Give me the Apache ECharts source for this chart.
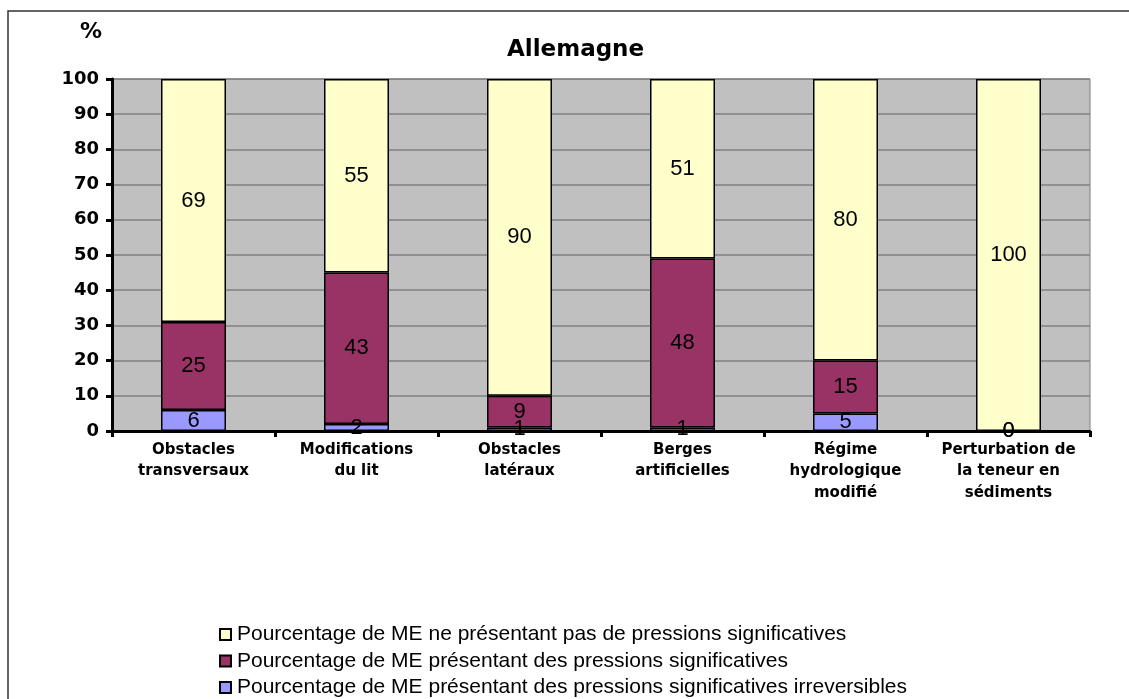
<!DOCTYPE html>
<html>
<head>
<meta charset="utf-8">
<script src="https://cdn.jsdelivr.net/npm/echarts@6/dist/echarts.min.js"></script>
<style>html,body{margin:0;padding:0;background:#fff}#c{width:1129px;height:699px}</style>
</head>
<body>
<div id="c"></div>
<script>
const categories = ['Obstacles\ntransversaux', 'Modifications\ndu lit', 'Obstacles\nlatéraux', 'Berges\nartificielles', 'Régime\nhydrologique\nmodifié', 'Perturbation de\nla teneur en\nsédiments'];
const irreversibles = [6, 2, 1, 1, 5, 0];
const significatives = [25, 43, 9, 48, 15, 0];
const nonSignificatives = [69, 55, 90, 51, 80, 100];
const yTicks = [0, 10, 20, 30, 40, 50, 60, 70, 80, 90, 100];
const names = [
  'Pourcentage de ME ne présentant pas de pressions significatives',
  'Pourcentage de ME présentant des pressions significatives',
  'Pourcentage de ME présentant des pressions significatives irreversibles'
];
const FONT = '"Liberation Sans", Arial, sans-serif';
const WIDE = '"DejaVu Sans", sans-serif';
const chart = echarts.init(document.getElementById('c'));
const lbl = {show: true, position: 'inside', color: '#000', fontSize: 22, fontFamily: FONT};
function ser(name, data, color) {
  return {name, type: 'bar', stack: 's', data, barWidth: 65,
    itemStyle: {color, borderColor: '#000', borderWidth: 1.5},
    label: lbl, emphasis: {disabled: true}};
}
chart.setOption({
  animation: false,
  graphic: [
    {type: 'rect', shape: {x: 8, y: 11, width: 1300, height: 900}, style: {fill: 'none', stroke: '#333', lineWidth: 1.5}, z: -10},
    {type: 'rect', shape: {x: 112, y: 79, width: 978, height: 352}, style: {fill: '#C0C0C0', stroke: '#808080', lineWidth: 1}, z: -5},
    {type: 'text', left: 80, top: 21, style: {text: '%', font: 'bold 22px ' + WIDE, fill: '#000'}}
  ],
  title: {text: 'Allemagne', left: 502, top: 34,
    textStyle: {fontSize: 23, fontWeight: 'bold', fontFamily: WIDE, color: '#000'}},
  legend: {
    orient: 'vertical', left: 214, top: 619, height: 90, itemWidth: 11, itemHeight: 11, itemGap: 5.5,
    data: names, icon: 'rect',
    textStyle: {fontSize: 21, fontFamily: FONT, color: '#000', padding: [0, 0, 0, 1]}
  },
  grid: {left: 112, top: 79, width: 978, height: 352, containLabel: false},
  xAxis: {
    type: 'category', data: categories,
    axisLine: {lineStyle: {color: '#000', width: 3}},
    axisTick: {show: true, length: 6, lineStyle: {color: '#000', width: 3}},
    axisLabel: {fontSize: 15, fontWeight: 'bold', fontFamily: WIDE, color: '#000', lineHeight: 21.5, margin: 8, interval: 0}
  },
  yAxis: {
    type: 'value', min: 0, max: 100, interval: 10,
    axisLine: {show: true, lineStyle: {color: '#000', width: 3}},
    axisTick: {show: true, length: 6, lineStyle: {color: '#000', width: 3}},
    splitLine: {lineStyle: {color: '#808080', width: 1.5}},
    axisLabel: {fontSize: 18, fontWeight: 'bold', fontFamily: WIDE, color: '#000', margin: 13,
      formatter: v => yTicks.includes(v) ? String(v) : ''}
  },
  series: [
    ser(names[2], irreversibles, '#9999FF'),
    ser(names[1], significatives, '#993366'),
    ser(names[0], nonSignificatives, '#FFFFCC')
  ]
});
</script>
</body>
</html>
